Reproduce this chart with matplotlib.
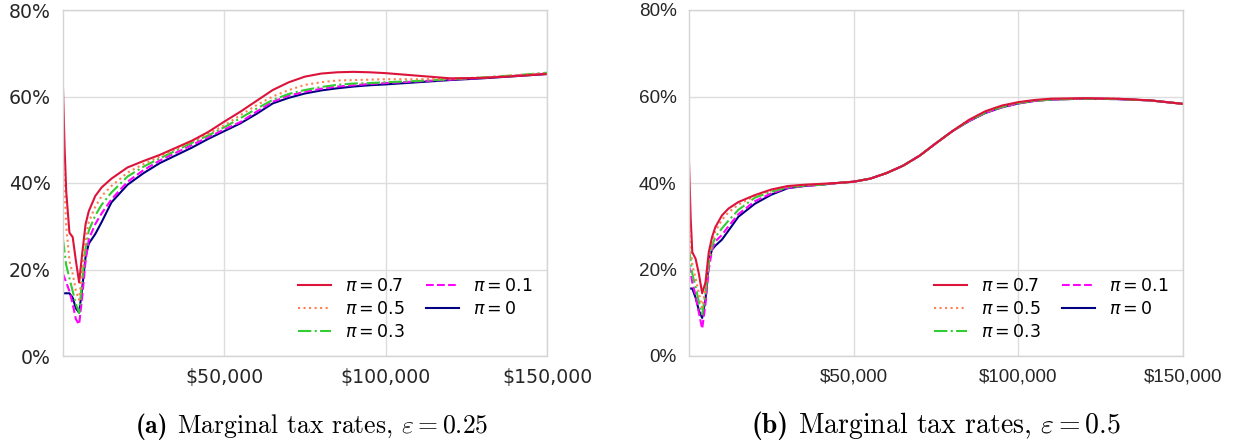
import matplotlib
matplotlib.use("Agg")
import matplotlib.pyplot as plt
from matplotlib.ticker import FuncFormatter

pi_labels = ["0.7", "0.5", "0.3", "0.1", "0"]

# income grids in $ thousands
income_a_k = [0, 0.5, 1, 2, 3, 4, 5, 6, 7, 8, 10, 12, 15, 20, 25, 30, 40, 45,
              50, 55, 60, 65, 70, 75, 80, 85, 90, 95, 100, 110, 120, 130, 140,
              150]
income_b_k = [0, 0.5, 1, 2, 3, 4, 5, 6, 7, 8, 10, 12, 15, 20, 25, 30, 35, 40,
              45, 50, 55, 60, 65, 70, 75, 80, 85, 90, 95, 100, 105, 110, 120,
              130, 140, 150]

# marginal tax rates (%), elasticity 0.25
mtr_a_07 = [62, 48, 38, 28.5, 27.5, 22, 17, 24, 30.5, 33.5, 37, 39, 41, 43.6,
            45.1, 46.5, 49.8, 51.8, 54.2, 56.5, 59.0, 61.5, 63.3, 64.6, 65.3,
            65.6, 65.7, 65.6, 65.4, 64.8, 64.2, 64.3, 64.7, 65.2]
mtr_a_05 = [46, 38, 30, 22, 19, 15, 13, 20, 27, 31, 34.5, 37, 39.3, 42.4,
            44.4, 46.1, 49.6, 51.4, 53.3, 55.7, 58.0, 60.0, 61.5, 62.7, 63.3,
            63.7, 63.8, 63.9, 64.0, 64.0, 64.1, 64.4, 64.9, 65.4]
mtr_a_03 = [27, 24, 21, 18, 15, 12, 10, 18, 25, 29, 32.5, 35, 37.8, 41.5,
            43.8, 45.7, 49.3, 51.0, 52.9, 55.0, 57.2, 59.2, 60.6, 61.5, 62.2,
            62.7, 63.0, 63.1, 63.3, 63.6, 64.0, 64.4, 64.9, 65.5]
mtr_a_01 = [19, 18, 17, 15, 12, 8.5, 7.3, 14, 22, 27, 30.5, 33, 36.2, 40.3,
            43.0, 45.2, 48.8, 50.6, 52.4, 54.1, 56.5, 58.8, 60.2, 61.1, 61.8,
            62.3, 62.6, 62.9, 63.1, 63.5, 63.9, 64.3, 64.8, 65.3]
mtr_a_00 = [14.5, 14.5, 14.5, 14.5, 13.5, 11, 10, 16, 23, 26, 28.2, 31, 35.5,
            39.6, 42.3, 44.6, 48.2, 50.2, 52.0, 53.8, 56.0, 58.4, 59.7, 60.7,
            61.4, 61.9, 62.3, 62.6, 62.8, 63.3, 63.8, 64.2, 64.7, 65.2]

# marginal tax rates (%), elasticity 0.5
mtr_b_07 = [45, 32, 24, 22.5, 19, 14.5, 17, 24, 27.5, 29.8, 32.5, 34.1, 35.6,
            37.2, 38.5, 39.3, 39.6, 39.8, 40.0, 40.3, 41.0, 42.3, 44.0, 46.3,
            49.2, 52.0, 54.6, 56.6, 57.9, 58.7, 59.2, 59.5, 59.6, 59.5, 59.1,
            58.3]
mtr_b_05 = [33, 26, 21, 18, 14.5, 11.2, 15.5, 22.5, 26.5, 28.8, 31.5, 33.2,
            35.0, 37.0, 38.3, 39.2, 39.5, 39.7, 40.0, 40.3, 41.0, 42.3, 44.0,
            46.3, 49.2, 52.0, 54.5, 56.5, 57.8, 58.6, 59.1, 59.4, 59.6, 59.5,
            59.1, 58.3]
mtr_b_03 = [25, 22, 19, 16, 12.5, 9.6, 14.5, 21.5, 25.5, 27.5, 29.5, 31.3,
            33.8, 36.6, 38.0, 39.0, 39.4, 39.6, 40.0, 40.3, 41.0, 42.3, 44.0,
            46.3, 49.2, 52.0, 54.4, 56.3, 57.6, 58.5, 59.0, 59.3, 59.5, 59.4,
            59.1, 58.3]
mtr_b_01 = [21, 19, 17, 14, 10, 6.3, 12, 20, 24.5, 26.5, 28, 30, 32.8, 35.8,
            37.6, 38.9, 39.3, 39.6, 40.0, 40.3, 41.0, 42.3, 44.0, 46.3, 49.2,
            52.0, 54.3, 56.2, 57.5, 58.4, 59.0, 59.3, 59.5, 59.4, 59.1, 58.3]
mtr_b_00 = [15.6, 15.6, 15.6, 13.5, 10.5, 8.8, 13, 22, 24.6, 25.5, 26.9, 29,
            32.2, 35.2, 37.3, 38.8, 39.3, 39.6, 40.0, 40.3, 41.0, 42.3, 44.0,
            46.3, 49.2, 52.0, 54.3, 56.2, 57.5, 58.4, 59.0, 59.3, 59.5, 59.4,
            59.1, 58.3]

x_ticks = [50000, 100000, 150000]
y_ticks = [0, 20, 40, 60, 80]

styles = [
    dict(color="crimson", ls="-"),
    dict(color="coral", ls=":"),
    dict(color="limegreen", ls="-."),
    dict(color="magenta", ls="--"),
    dict(color="navy", ls="-"),
]


def add_caption(fig, ax, tag, rest, size, dx=0):
    # bold tag followed by roman text, centred under the axes as one line
    renderer = fig.canvas.get_renderer()
    t_tag = ax.text(0, 0, tag, family="cmb10", fontsize=size,
                    ha="left", va="baseline", transform=None)
    t_rest = ax.text(0, 0, rest, family="cmr10", math_fontfamily="cm",
                     fontsize=size, ha="left", va="baseline", transform=None)
    w_tag = t_tag.get_window_extent(renderer).width
    w_rest = t_rest.get_window_extent(renderer).width
    gap = size * 0.45
    total = w_tag + gap + w_rest
    x_mid, y_base = ax.transAxes.transform((0.5, -0.222))
    x0 = x_mid + dx - total / 2
    t_tag.set_position((x0, y_base))
    t_rest.set_position((x0 + w_tag + gap, y_base))


def draw_panel(ax, income_k, series, tick_font):
    income = [v * 1000 for v in income_k]
    handles = [None] * len(series)
    # lowest pi first so the pi = 0.7 line ends up on top
    for i in reversed(range(len(series))):
        (h,) = ax.plot(income, series[i], lw=1.5, label=rf"$\pi = {pi_labels[i]}$",
                       **styles[i])
        handles[i] = h
    ax.set_xlim(0, 150000)
    ax.set_ylim(0, 80)
    ax.set_xticks(x_ticks)
    ax.set_yticks(y_ticks)
    ax.xaxis.set_major_formatter(FuncFormatter(lambda v, p: f"${v:,.0f}"))
    ax.yaxis.set_major_formatter(FuncFormatter(lambda v, p: f"{v:.0f}%"))
    ax.grid(True, color="#dddddd", lw=1)
    ax.set_axisbelow(True)
    for s in ax.spines.values():
        s.set_color("#d4d4d4")
        s.set_linewidth(1)
    ax.tick_params(length=0, pad=9, labelsize=13.6, labelcolor="#262626")
    for lab in ax.get_xticklabels() + ax.get_yticklabels():
        lab.set_family(tick_font)
    ax.legend(handles=handles, loc="lower right", ncol=2, frameon=False,
              fontsize=12.5, handlelength=1.9, columnspacing=1.2,
              labelspacing=0.3, borderaxespad=0.45)


fig = plt.figure(figsize=(12.34, 4.45), dpi=100)
ax_a = fig.add_axes([63 / 1234, 89 / 445, 484 / 1234, 346 / 445])
ax_b = fig.add_axes([689 / 1234, 89 / 445, 494 / 1234, 346 / 445])

draw_panel(ax_a, income_a_k,
           [mtr_a_07, mtr_a_05, mtr_a_03, mtr_a_01, mtr_a_00], "DejaVu Sans")
draw_panel(ax_b, income_b_k,
           [mtr_b_07, mtr_b_05, mtr_b_03, mtr_b_01, mtr_b_00], "Liberation Sans")

add_caption(fig, ax_a, "(a)", r"Marginal tax rates, $\varepsilon = 0.25$",
            18.5, dx=7)
add_caption(fig, ax_b, "(b)", r"Marginal tax rates, $\varepsilon = 0.5$", 20)

fig.savefig("out.png", dpi=100)
